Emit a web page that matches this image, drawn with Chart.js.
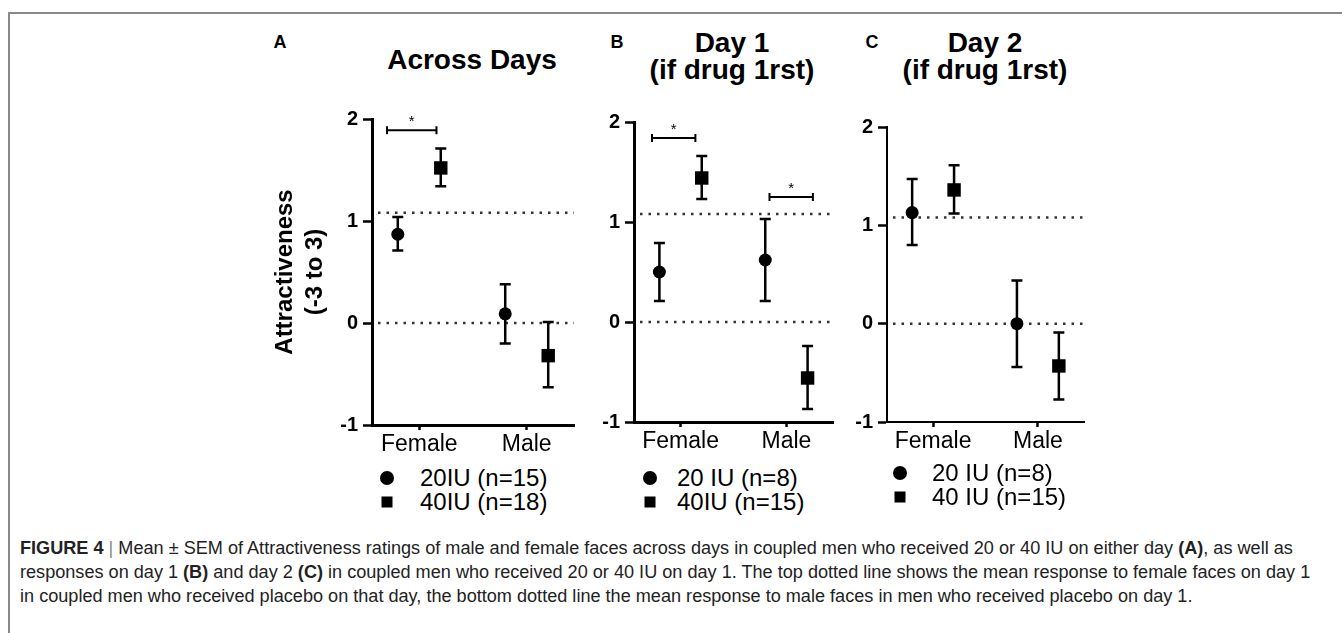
<!DOCTYPE html>
<html>
<head>
<meta charset="utf-8">
<script src="https://cdn.jsdelivr.net/npm/chart.js@4.4.1/dist/chart.umd.min.js"></script>
<style>
  body { margin: 0; background: #fff; color: #000; font-family: "Liberation Sans", Arial, sans-serif; }
  #page { position: relative; width: 1342px; height: 633px; overflow: hidden; }
  .frame { position: absolute; left: 8px; top: 12px; width: 1400px; height: 700px;
           border-left: 2px solid #8a8a8a; border-top: 2px solid #8a8a8a; }
  .letter { position: absolute; font-weight: bold; font-size: 18px; line-height: 18px; transform: translate(-50%, -50%); }
  .title { position: absolute; font-weight: bold; font-size: 28px; text-align: center; white-space: nowrap; transform: translateX(-50%); }
  .panel { position: absolute; }
  .legend { position: absolute; font-size: 24px; }
  .legend .row { position: relative; height: 24px; line-height: 24px; white-space: nowrap; }
  .legend .mk { position: absolute; top: 50%; background: #000; transform: translate(-50%, -50%); }
  .legend .mk.circle { width: 14px; height: 14px; border-radius: 50%; }
  .legend .mk.rect { width: 11px; height: 11px; }
  .legend .txt { position: absolute; top: 0; }
  #caption { position: absolute; left: 20px; top: 536px; line-height: 24px; font-size: 16px; color: #222; }
  #caption div { white-space: nowrap; }
  #caption .sep { color: #888; }
</style>
</head>
<body>
<div id="page">
  <div class="frame"></div>

  <div class="letter" style="left:280px; top:42px;">A</div>
  <div class="letter" style="left:617px; top:42px;">B</div>
  <div class="letter" style="left:872px; top:42px;">C</div>

  <div class="title" style="left:472px; top:46px; line-height:28px;">Across Days</div>
  <div class="title" style="left:732px; top:29px; line-height:27px;">Day 1<br>(if drug 1rst)</div>
  <div class="title" style="left:985px; top:29px; line-height:27px;">Day 2<br>(if drug 1rst)</div>

  <div class="panel" style="left:260px; top:100px;"><canvas id="chartA" width="320" height="360"></canvas></div>
  <div class="panel" style="left:584px; top:100px;"><canvas id="chartB" width="255" height="360"></canvas></div>
  <div class="panel" style="left:837px; top:100px;"><canvas id="chartC" width="253" height="360"></canvas></div>

  <div class="legend" id="legendA" style="left:387px; top:466px;"></div>
  <div class="legend" id="legendB" style="left:650px; top:466px;"></div>
  <div class="legend" id="legendC" style="left:900px; top:461px;"></div>

  <div id="caption">
    <div id="cap1"><b>FIGURE 4</b> <span class="sep">|</span> Mean ± SEM of Attractiveness ratings of male and female faces across days in coupled men who received 20 or 40 IU on either day <b>(A)</b>, as well as</div>
    <div>responses on day 1 <b>(B)</b> and day 2 <b>(C)</b> in coupled men who received 20 or 40 IU on day 1. The top dotted line shows the mean response to female faces on day 1</div>
    <div>in coupled men who received placebo on that day, the bottom dotted line the mean response to male faces in men who received placebo on day 1.</div>
  </div>
</div>

<script>
const categories = ['Female', 'Male'];
const refLines = [1.08, 0];
const groupOffset = 0.2;

// A - across days
const acrossLabels = ['20IU (n=15)', '40IU (n=18)'];
const across20 = [0.87, 0.09];
const across20Err = [[0.71, 1.04], [-0.20, 0.38]];
const across40 = [1.52, -0.32];
const across40Err = [[1.34, 1.71], [-0.63, 0.01]];
const acrossSig = [[-0.30, 0.16, 1.89]];

// B - day 1
const day1Labels = ['20 IU (n=8)', '40IU (n=15)'];
const day1_20 = [0.50, 0.62];
const day1_20Err = [[0.21, 0.79], [0.21, 1.03]];
const day1_40 = [1.44, -0.56];
const day1_40Err = [[1.23, 1.66], [-0.87, -0.24]];
const day1Sig = [[-0.27, 0.14, 1.84], [0.84, 1.25, 1.25]];

// C - day 2
const day2Labels = ['20 IU (n=8)', '40 IU (n=15)'];
const day2_20 = [1.13, 0.00];
const day2_20Err = [[0.80, 1.47], [-0.44, 0.44]];
const day2_40 = [1.36, -0.43];
const day2_40Err = [[1.12, 1.61], [-0.77, -0.09]];
const day2Sig = [];

Chart.defaults.font.family = '"Liberation Sans", Arial, sans-serif';
Chart.defaults.color = '#000';

// dotted reference lines, error bars and significance brackets
function markings(sig) {
    return {
        id: 'markings',
        beforeDatasetsDraw(chart) {
            const { ctx, chartArea, scales: { x, y } } = chart;
            ctx.save();
            ctx.strokeStyle = '#333';
            ctx.lineWidth = 2.5;
            ctx.setLineDash([2.5, 6]);
            refLines.forEach(v => {
                const py = y.getPixelForValue(v);
                ctx.beginPath();
                ctx.moveTo(chartArea.left + 6, py);
                ctx.lineTo(chartArea.right, py);
                ctx.stroke();
            });
            ctx.setLineDash([]);
            ctx.strokeStyle = '#000';
            chart.data.datasets.forEach(ds => {
                ds.errors.forEach(([lo, hi], i) => {
                    const px = x.getPixelForValue(ds.data[i].x);
                    const y1 = y.getPixelForValue(lo);
                    const y2 = y.getPixelForValue(hi);
                    ctx.beginPath();
                    ctx.moveTo(px, y1); ctx.lineTo(px, y2);
                    ctx.moveTo(px - 5.5, y1); ctx.lineTo(px + 5.5, y1);
                    ctx.moveTo(px - 5.5, y2); ctx.lineTo(px + 5.5, y2);
                    ctx.stroke();
                });
            });
            ctx.lineWidth = 2;
            ctx.font = '15px "Liberation Sans", Arial, sans-serif';
            ctx.textAlign = 'center';
            ctx.textBaseline = 'middle';
            ctx.fillStyle = '#000';
            sig.forEach(([a, b, v]) => {
                const x1 = x.getPixelForValue(a);
                const x2 = x.getPixelForValue(b);
                const py = y.getPixelForValue(v);
                ctx.beginPath();
                ctx.moveTo(x1, py - 4); ctx.lineTo(x1, py + 4);
                ctx.moveTo(x1, py); ctx.lineTo(x2, py);
                ctx.moveTo(x2, py - 4); ctx.lineTo(x2, py + 4);
                ctx.stroke();
                ctx.fillText('*', (x1 + x2) / 2, py - 8);
            });
            ctx.restore();
        }
    };
}

function makePanel(id, labels, m20, e20, m40, e40, sig, geo) {
    const chart = new Chart(document.getElementById(id), {
        type: 'scatter',
        data: {
            datasets: [
                {
                    label: labels[0],
                    data: m20.map((v, i) => ({ x: i - groupOffset, y: v })),
                    errors: e20,
                    pointStyle: 'circle',
                    pointRadius: 6.5,
                    backgroundColor: '#000',
                    borderWidth: 0
                },
                {
                    label: labels[1],
                    data: m40.map((v, i) => ({ x: i + groupOffset, y: v })),
                    errors: e40,
                    pointStyle: 'rect',
                    pointRadius: 9.5,
                    backgroundColor: '#000',
                    borderWidth: 0
                }
            ]
        },
        options: {
            responsive: false,
            animation: false,
            events: [],
            layout: { autoPadding: false, padding: { top: geo.padTop, right: geo.padRight, left: 0, bottom: 0 } },
            plugins: { legend: { display: false }, tooltip: { enabled: false } },
            scales: {
                x: {
                    type: 'linear',
                    min: -0.44,
                    max: 1.44,
                    afterBuildTicks: s => { s.ticks = categories.map((c, i) => ({ value: i })); },
                    afterFit: s => { s.height = geo.xHeight; },
                    ticks: { autoSkip: false, padding: 1, font: { size: 23 }, callback: v => categories[v] },
                    grid: { drawOnChartArea: false, tickLength: 5, tickWidth: 2.5, tickColor: '#000' },
                    border: { color: '#000', width: geo.border }
                },
                y: {
                    min: -1,
                    max: 2,
                    afterFit: s => { s.width = geo.yWidth; },
                    ticks: { stepSize: 1, padding: 5, font: { size: 20, weight: 'bold' } },
                    grid: { drawOnChartArea: false, tickLength: 9, tickWidth: 2.5, tickColor: '#000' },
                    border: { color: '#000', width: geo.border },
                    title: {
                        display: !!geo.yTitle,
                        text: geo.yTitle || '',
                        font: { size: 24, weight: 'bold', lineHeight: 1.25 },
                        padding: { top: 10, bottom: 0 }
                    }
                }
            }
        },
        plugins: [markings(sig)]
    });
    return chart;
}

function buildLegend(elId, chart, gap) {
    const el = document.getElementById(elId);
    el.innerHTML = chart.data.datasets.map(ds => `
        <div class="row">
            <span class="mk ${ds.pointStyle}"></span>
            <span class="txt" style="left:${gap}px">${ds.label}</span>
        </div>`).join('');
}

const chartA = makePanel('chartA', acrossLabels, across20, across20Err, across40, across40Err, acrossSig,
    { padTop: 19, padRight: 6, xHeight: 35, yWidth: 112, border: 3, yTitle: ['Attractiveness', '(-3 to 3)'] });
const chartB = makePanel('chartB', day1Labels, day1_20, day1_20Err, day1_40, day1_40Err, day1Sig,
    { padTop: 22, padRight: 6, xHeight: 38, yWidth: 50, border: 3 });
const chartC = makePanel('chartC', day2Labels, day2_20, day2_20Err, day2_40, day2_40Err, day2Sig,
    { padTop: 27, padRight: 6, xHeight: 38, yWidth: 50, border: 2 });

buildLegend('legendA', chartA, 33);
buildLegend('legendB', chartB, 27);
buildLegend('legendC', chartC, 32);

// fit caption line width to the figure
const cap = document.getElementById('caption');
const first = document.getElementById('cap1');
const w = first.getBoundingClientRect().width;
cap.style.fontSize = (16 * 1291 / w).toFixed(2) + 'px';
</script>
</body>
</html>
